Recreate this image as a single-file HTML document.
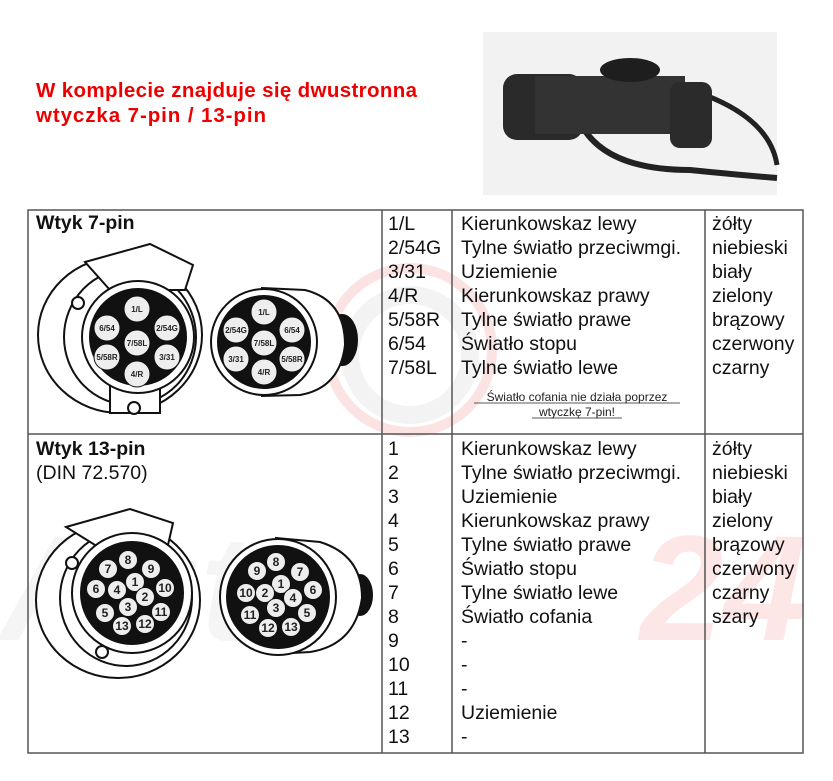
<!DOCTYPE html>
<html><head><meta charset="utf-8"><style>
body{margin:0;background:#fff;}
svg{display:block;font-family:"Liberation Sans",sans-serif;}
.t{font-size:19.5px;fill:#111;}
.p{font-size:8px;font-weight:bold;fill:#222;text-anchor:middle;}
.q{font-size:12px;font-weight:bold;fill:#222;text-anchor:middle;}
</style></head><body>
<svg width="833" height="781" viewBox="0 0 833 781">
<!-- watermark -->
<g opacity="0.13">
<circle cx="410" cy="350" r="82" fill="none" stroke="#e33" stroke-width="10"/>
<circle cx="410" cy="355" r="60" fill="none" stroke="#aaa" stroke-width="18"/>
<text x="0" y="640" font-size="150" font-style="italic" font-weight="bold" fill="#bbb">Auto</text>
<text x="640" y="640" font-size="150" font-style="italic" font-weight="bold" fill="#e44">24</text>
</g>
<!-- header -->
<text x="36" y="97" font-size="20.5" font-weight="bold" fill="#e00" textLength="381">W komplecie znajduje się dwustronna</text>
<text x="36" y="122" font-size="20.5" font-weight="bold" fill="#e00" textLength="230">wtyczka 7-pin / 13-pin</text>
<!-- photo -->
<rect x="483" y="32" width="294" height="163" fill="#f2f2f2"/>
<path d="M705 95 Q770 120 777 165" stroke="#222" stroke-width="5" fill="none"/>
<path d="M578 118 Q600 170 690 170 Q740 175 777 178" stroke="#222" stroke-width="6" fill="none"/>
<rect x="503" y="74" width="80" height="66" rx="14" fill="#2a2a2a"/>
<rect x="535" y="76" width="150" height="58" fill="#333"/>
<rect x="670" y="82" width="42" height="66" rx="10" fill="#2b2b2b"/>
<ellipse cx="630" cy="70" rx="30" ry="12" fill="#1e1e1e"/>
<!-- table -->
<g stroke="#555" stroke-width="1.5" fill="none">
<rect x="28" y="210" width="775" height="543"/>
<line x1="382" y1="210" x2="382" y2="753"/>
<line x1="452" y1="210" x2="452" y2="753"/>
<line x1="705" y1="210" x2="705" y2="753"/>
<line x1="28" y1="434" x2="803" y2="434"/>
</g>
<text x="36" y="229" font-size="19.5" font-weight="bold" fill="#111">Wtyk 7-pin</text>
<text x="36" y="455" font-size="19.5" font-weight="bold" fill="#111">Wtyk 13-pin</text>
<text x="36" y="479" class="t">(DIN 72.570)</text>
<g class="t">
<text x="388" y="230">1/L</text><text x="388" y="254">2/54G</text><text x="388" y="278">3/31</text><text x="388" y="302">4/R</text><text x="388" y="326">5/58R</text><text x="388" y="350">6/54</text><text x="388" y="374">7/58L</text>
<text x="461" y="230">Kierunkowskaz lewy</text><text x="461" y="254">Tylne światło przeciwmgi.</text><text x="461" y="278">Uziemienie</text><text x="461" y="302">Kierunkowskaz prawy</text><text x="461" y="326">Tylne światło prawe</text><text x="461" y="350">Światło stopu</text><text x="461" y="374">Tylne światło lewe</text>
<text x="712" y="230">żółty</text><text x="712" y="254">niebieski</text><text x="712" y="278">biały</text><text x="712" y="302">zielony</text><text x="712" y="326">brązowy</text><text x="712" y="350">czerwony</text><text x="712" y="374">czarny</text>
</g>
<text x="577" y="401" font-size="12" fill="#222" text-anchor="middle">Światło cofania nie działa poprzez</text>
<text x="577" y="416" font-size="12" fill="#222" text-anchor="middle">wtyczkę 7-pin!</text>
<line x1="474" y1="403" x2="680" y2="403" stroke="#222" stroke-width="0.8"/>
<line x1="532" y1="418" x2="622" y2="418" stroke="#222" stroke-width="0.8"/>
<g class="t">
<text x="388" y="455">1</text><text x="388" y="479">2</text><text x="388" y="503">3</text><text x="388" y="527">4</text><text x="388" y="551">5</text><text x="388" y="575">6</text><text x="388" y="599">7</text><text x="388" y="623">8</text><text x="388" y="647">9</text><text x="388" y="671">10</text><text x="388" y="695">11</text><text x="388" y="719">12</text><text x="388" y="743">13</text>
<text x="461" y="455">Kierunkowskaz lewy</text><text x="461" y="479">Tylne światło przeciwmgi.</text><text x="461" y="503">Uziemienie</text><text x="461" y="527">Kierunkowskaz prawy</text><text x="461" y="551">Tylne światło prawe</text><text x="461" y="575">Światło stopu</text><text x="461" y="599">Tylne światło lewe</text><text x="461" y="623">Światło cofania</text><text x="461" y="647">-</text><text x="461" y="671">-</text><text x="461" y="695">-</text><text x="461" y="719">Uziemienie</text><text x="461" y="743">-</text>
<text x="712" y="455">żółty</text><text x="712" y="479">niebieski</text><text x="712" y="503">biały</text><text x="712" y="527">zielony</text><text x="712" y="551">brązowy</text><text x="712" y="575">czerwony</text><text x="712" y="599">czarny</text><text x="712" y="623">szary</text>
</g>
<!-- 7-pin socket -->
<g stroke="#111" stroke-width="2" fill="#fff">
<ellipse cx="120" cy="335" rx="82" ry="78"/>
<ellipse cx="130" cy="337" rx="66" ry="68"/>
<path d="M85 262 L150 244 L193 265 L185 290 L110 290 Z"/>
<rect x="110" y="385" width="50" height="28"/>
<circle cx="138" cy="337" r="56"/>
<circle cx="138" cy="337" r="48" fill="#111"/>
<circle cx="78" cy="303" r="6"/><circle cx="134" cy="408" r="6"/>
</g>
<g fill="#eee" stroke="#111">
<circle cx="137" cy="309" r="13"/><circle cx="107" cy="328" r="13"/><circle cx="167" cy="328" r="13"/><circle cx="137" cy="343" r="13"/><circle cx="107" cy="357" r="13"/><circle cx="167" cy="357" r="13"/><circle cx="137" cy="374" r="13"/>
</g>
<text class="p" x="137" y="312">1/L</text><text class="p" x="107" y="331">6/54</text><text class="p" x="167" y="331">2/54G</text><text class="p" x="137" y="346">7/58L</text><text class="p" x="107" y="360">5/58R</text><text class="p" x="167" y="360">3/31</text><text class="p" x="137" y="377">4/R</text>
<!-- 7-pin plug -->
<g stroke="#111" stroke-width="2" fill="#fff">
<ellipse cx="342" cy="340" rx="15" ry="25" fill="#111"/>
<path d="M262 288 L305 290 Q345 300 345 345 Q340 388 300 395 L262 396 Z"/>
<circle cx="264" cy="342" r="53"/>
<circle cx="264" cy="342" r="46" fill="#111"/>
</g>
<g fill="#eee" stroke="#111">
<circle cx="264" cy="312" r="13"/><circle cx="236" cy="330" r="13"/><circle cx="292" cy="330" r="13"/><circle cx="264" cy="343" r="13"/><circle cx="236" cy="359" r="13"/><circle cx="292" cy="359" r="13"/><circle cx="264" cy="372" r="13"/>
</g>
<text class="p" x="264" y="315">1/L</text><text class="p" x="236" y="333">2/54G</text><text class="p" x="292" y="333">6/54</text><text class="p" x="264" y="346">7/58L</text><text class="p" x="236" y="362">3/31</text><text class="p" x="292" y="362">5/58R</text><text class="p" x="264" y="375">4/R</text>
<!-- 13-pin socket -->
<g stroke="#111" stroke-width="2" fill="#fff">
<ellipse cx="118" cy="600" rx="82" ry="78"/>
<ellipse cx="126" cy="598" rx="66" ry="68"/>
<path d="M66 527 L130 509 L173 523 L168 545 L95 545 Z"/>
<circle cx="132" cy="593" r="60"/>
<circle cx="132" cy="593" r="51" fill="#111"/>
<circle cx="72" cy="563" r="6"/><circle cx="102" cy="652" r="6"/>
</g>
<g fill="#eee" stroke="#111">
<circle cx="128" cy="560" r="9.5"/><circle cx="108" cy="569" r="9.5"/><circle cx="151" cy="569" r="9.5"/><circle cx="135" cy="582" r="9.5"/><circle cx="96" cy="589" r="9.5"/><circle cx="117" cy="590" r="9.5"/><circle cx="165" cy="588" r="9.5"/><circle cx="145" cy="597" r="9.5"/><circle cx="128" cy="607" r="9.5"/><circle cx="105" cy="613" r="9.5"/><circle cx="161" cy="612" r="9.5"/><circle cx="122" cy="626" r="9.5"/><circle cx="145" cy="624" r="9.5"/>
</g>
<g class="q"><text x="128" y="564">8</text><text x="108" y="573">7</text><text x="151" y="573">9</text><text x="135" y="586">1</text><text x="96" y="593">6</text><text x="117" y="594">4</text><text x="165" y="592">10</text><text x="145" y="601">2</text><text x="128" y="611">3</text><text x="105" y="617">5</text><text x="161" y="616">11</text><text x="122" y="630">13</text><text x="145" y="628">12</text></g>
<!-- 13-pin plug -->
<g stroke="#111" stroke-width="2" fill="#fff">
<ellipse cx="360" cy="595" rx="12" ry="20" fill="#111"/>
<path d="M276 538 L320 542 Q362 555 362 598 Q355 645 310 652 L276 654 Z"/>
<circle cx="278" cy="597" r="58"/>
<circle cx="278" cy="597" r="51" fill="#111"/>
</g>
<g fill="#eee" stroke="#111">
<circle cx="276" cy="562" r="9.5"/><circle cx="257" cy="571" r="9.5"/><circle cx="300" cy="572" r="9.5"/><circle cx="281" cy="584" r="9.5"/><circle cx="246" cy="593" r="9.5"/><circle cx="265" cy="593" r="9.5"/><circle cx="313" cy="590" r="9.5"/><circle cx="293" cy="598" r="9.5"/><circle cx="276" cy="608" r="9.5"/><circle cx="250" cy="615" r="9.5"/><circle cx="307" cy="613" r="9.5"/><circle cx="268" cy="628" r="9.5"/><circle cx="291" cy="627" r="9.5"/>
</g>
<g class="q"><text x="276" y="566">8</text><text x="257" y="575">9</text><text x="300" y="576">7</text><text x="281" y="588">1</text><text x="246" y="597">10</text><text x="265" y="597">2</text><text x="313" y="594">6</text><text x="293" y="602">4</text><text x="276" y="612">3</text><text x="250" y="619">11</text><text x="307" y="617">5</text><text x="268" y="632">12</text><text x="291" y="631">13</text></g>
</svg>
</body></html>
